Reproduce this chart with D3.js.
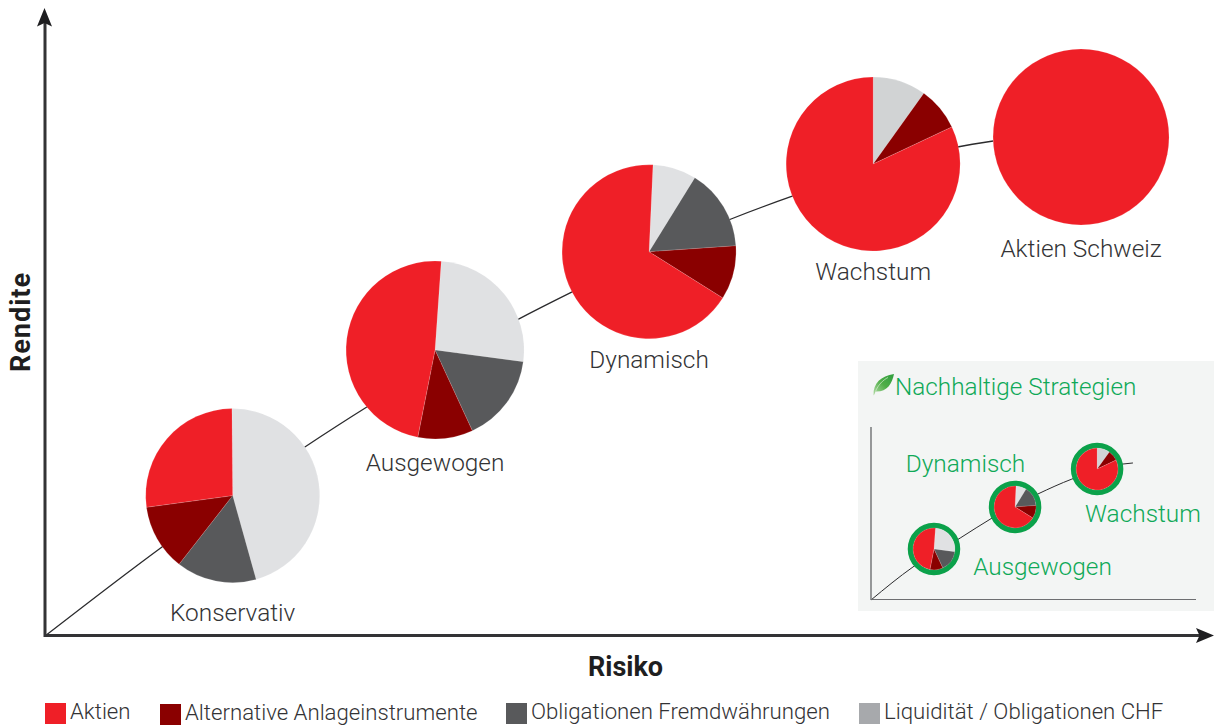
<!DOCTYPE html>
<html>
<head>
<meta charset="utf-8">
<script src="https://cdn.jsdelivr.net/npm/d3@7"></script>
<style>
  html, body { margin: 0; padding: 0; background: #fff; }
  svg { display: block; }
  text { font-family: Roboto, sans-serif; }
</style>
</head>
<body>
<svg id="chart" width="1214" height="726"></svg>
<script>
// legend order, also the colour of each slice
const categories = ["Aktien", "Alternative Anlageinstrumente", "Obligationen Fremdwährungen", "Liquidität / Obligationen CHF"];

// main chart, risk/return on a 0-100 scale
const strategies = ["Konservativ", "Ausgewogen", "Dynamisch", "Wachstum", "Aktien Schweiz"];
const risiko = [16.25, 33.77, 52.3, 71.7, 89.7];
const rendite = [23.4, 47.67, 64.05, 78.67, 83.17];
const aktien = [27, 48, 66.8, 82, 100];
const alternative = [12.3, 10, 10, 8.1, 0];
const obligationen = [14.9, 16, 15.1, 0, 0];
const liquiditaet = [45.8, 26, 8.1, 9.9, 0];
const startDegrees = [-0.5, 4, 2.6, 0, 0];

const curveRisiko = [0, 10.1, 22.5, 27.9, 41, 45.6, 59.4, 64.7, 79, 82.1];
const curveRendite = [0, 14.8, 31.5, 38.2, 52.8, 57.3, 69.5, 73.3, 81.5, 82.5];

// inset with the sustainable strategies (index into the arrays above)
const insetTitle = "Nachhaltige Strategien";
const insetStrategies = ["Ausgewogen", "Dynamisch", "Wachstum"];
const insetRisiko = [19.5, 44.6, 70];
const insetRendite = [29.5, 53.8, 75.7];
const insetCurveRisiko = [0, 13, 27.6, 37.5, 51.7, 62.2, 78, 81.1];
const insetCurveRendite = [0, 19.1, 35.8, 47.4, 61.3, 69.9, 78.6, 79.2];

const colors = ["#ef1f27", "#8a0000", "#58595b", "#e0e1e3"];
const legendColors = ["#ef1f27", "#8a0000", "#58595b", "#a7a9ac"];
const textColor = "#333335";
const green = "#0fa958";
const ringGreen = "#0ba14a";

const svg = d3.select("#chart");

const x = d3.scaleLinear().domain([0, 100]).range([45, 1200]);
const y = d3.scaleLinear().domain([0, 100]).range([636, 36]);
const insetX = d3.scaleLinear().domain([0, 100]).range([871, 1194]);
const insetY = d3.scaleLinear().domain([0, 100]).range([600, 427]);

function sliceValues(name) {
    const i = strategies.indexOf(name);
    return [
        { value: liquiditaet[i], color: name === "Wachstum" ? "#d1d3d4" : colors[3] },
        { value: obligationen[i], color: colors[2] },
        { value: alternative[i], color: colors[1] },
        { value: aktien[i], color: colors[0] }
    ];
}

function drawPie(parent, name, cx, cy, radius) {
    const start = startDegrees[strategies.indexOf(name)] * Math.PI / 180;
    const pie = d3.pie().sort(null).value(d => d.value)
        .startAngle(start).endAngle(start + 2 * Math.PI);
    const arc = d3.arc().innerRadius(0).outerRadius(radius);
    parent.append("g")
        .attr("transform", `translate(${cx},${cy})`)
        .selectAll("path")
        .data(pie(sliceValues(name)).filter(d => d.data.value > 0))
        .enter().append("path")
        .attr("d", arc)
        .attr("fill", d => d.data.color)
        .attr("stroke", "#fff")
        .attr("stroke-opacity", 0.35)
        .attr("stroke-width", 0.4);
}

// curve behind the pies
const line = d3.line().curve(d3.curveMonotoneX);
svg.append("path")
    .attr("d", line(curveRisiko.map((d, i) => [x(d), y(curveRendite[i])])))
    .attr("fill", "none")
    .attr("stroke", "#2b2b2d")
    .attr("stroke-width", 1.3);

// axes with arrow heads
svg.append("line").attr("x1", 45).attr("x2", 1204).attr("y1", 635.5).attr("y2", 635.5)
    .attr("stroke", textColor).attr("stroke-width", 3);
svg.append("line").attr("x1", 45).attr("x2", 45).attr("y1", 637).attr("y2", 20)
    .attr("stroke", textColor).attr("stroke-width", 3);
svg.append("path").attr("d", "M44.5,8 L52,26.5 L44.5,23 L37,26.5 Z").attr("fill", "#1e1e20");
svg.append("path").attr("d", "M1214,635.5 L1196,628 L1199.5,635.5 L1196,643 Z").attr("fill", "#1e1e20");

// main pies
const pieRadius = [87, 89, 87, 87, 88];
strategies.forEach((name, i) => drawPie(svg, name, x(risiko[i]), y(rendite[i]), pieRadius[i]));

const labelDy = [125, 121, 116, 116, 120];
svg.selectAll(".pie-label")
    .data(strategies)
    .enter().append("text")
    .attr("class", "pie-label")
    .attr("x", (d, i) => x(risiko[i]))
    .attr("y", (d, i) => y(rendite[i]) + labelDy[i])
    .attr("text-anchor", "middle")
    .attr("font-size", 24.4)
    .attr("font-weight", 300)
    .attr("fill", textColor)
    .text(d => d);

// axis titles
svg.append("text").attr("x", 625.5).attr("y", 676).attr("text-anchor", "middle")
    .attr("font-size", 27).attr("font-weight", 700).attr("fill", "#1e1e20").text("Risiko");
svg.append("text").attr("transform", "translate(30,322) rotate(-90)").attr("text-anchor", "middle")
    .attr("font-size", 27).attr("letter-spacing", 1).attr("font-weight", 700).attr("fill", "#1e1e20").text("Rendite");

// legend
const legendX = [45, 160, 506, 859];
const legendTop = [703, 704, 703, 703];
const legend = svg.selectAll(".legend")
    .data(categories)
    .enter().append("g")
    .attr("class", "legend")
    .attr("transform", (d, i) => `translate(${legendX[i]},${legendTop[i]})`);
legend.append("rect").attr("width", 21).attr("height", 21).attr("fill", (d, i) => legendColors[i]);
legend.append("text").attr("x", 25).attr("y", 16)
    .attr("font-size", 22.2).attr("font-weight", 300).attr("fill", textColor).text(d => d);

// inset
const inset = svg.append("g");
inset.append("rect").attr("x", 858).attr("y", 361).attr("width", 356).attr("height", 250).attr("fill", "#f3f5f4");
inset.append("path")
    .attr("d", line(insetCurveRisiko.map((d, i) => [insetX(d), insetY(insetCurveRendite[i])])))
    .attr("fill", "none").attr("stroke", "#2b2b2d").attr("stroke-width", 1);
inset.append("line").attr("x1", 871).attr("x2", 871).attr("y1", 427).attr("y2", 600)
    .attr("stroke", "#58595b").attr("stroke-width", 1.2);
inset.append("line").attr("x1", 871).attr("x2", 1196).attr("y1", 599.5).attr("y2", 599.5)
    .attr("stroke", "#6d6e71").attr("stroke-width", 1.2);

insetStrategies.forEach((name, i) => {
    inset.append("circle")
        .attr("cx", insetX(insetRisiko[i])).attr("cy", insetY(insetRendite[i]))
        .attr("r", 23.5).attr("fill", "#fff")
        .attr("stroke", ringGreen).attr("stroke-width", 5.5);
    drawPie(inset, name, insetX(insetRisiko[i]), insetY(insetRendite[i]), 21);
});

const insetLabelX = [1042.5, 965.5, 1143];
const insetLabelY = [575, 472, 522];
inset.selectAll(".inset-label")
    .data(insetStrategies)
    .enter().append("text")
    .attr("class", "inset-label")
    .attr("x", (d, i) => insetLabelX[i])
    .attr("y", (d, i) => insetLabelY[i])
    .attr("text-anchor", "middle")
    .attr("font-size", 24.4).attr("font-weight", 300).attr("fill", green)
    .text(d => d);
inset.append("text").attr("x", 895).attr("y", 395)
    .attr("font-size", 24.3).attr("font-weight", 300).attr("fill", green).text(insetTitle);

// leaf icon
const grad = svg.append("defs").append("linearGradient").attr("id", "leaf")
    .attr("x1", 0).attr("y1", 1).attr("x2", 1).attr("y2", 0);
grad.append("stop").attr("offset", 0).attr("stop-color", "#b5dca8");
grad.append("stop").attr("offset", 0.5).attr("stop-color", "#4fae48");
grad.append("stop").attr("offset", 1).attr("stop-color", "#2f9e3f");
inset.append("path")
    .attr("d", "M873.5,395.5 C873,383 881,376 894,374 C892,384 887,392 875.5,391.5 C875,393 874.5,394.5 873.5,395.5 Z")
    .attr("fill", "url(#leaf)");
inset.append("path")
    .attr("d", "M875.5,391.5 C878,385 883,380 888,377.5")
    .attr("fill", "none").attr("stroke", "#d5ecd0").attr("stroke-width", 0.7);
</script>
</body>
</html>
